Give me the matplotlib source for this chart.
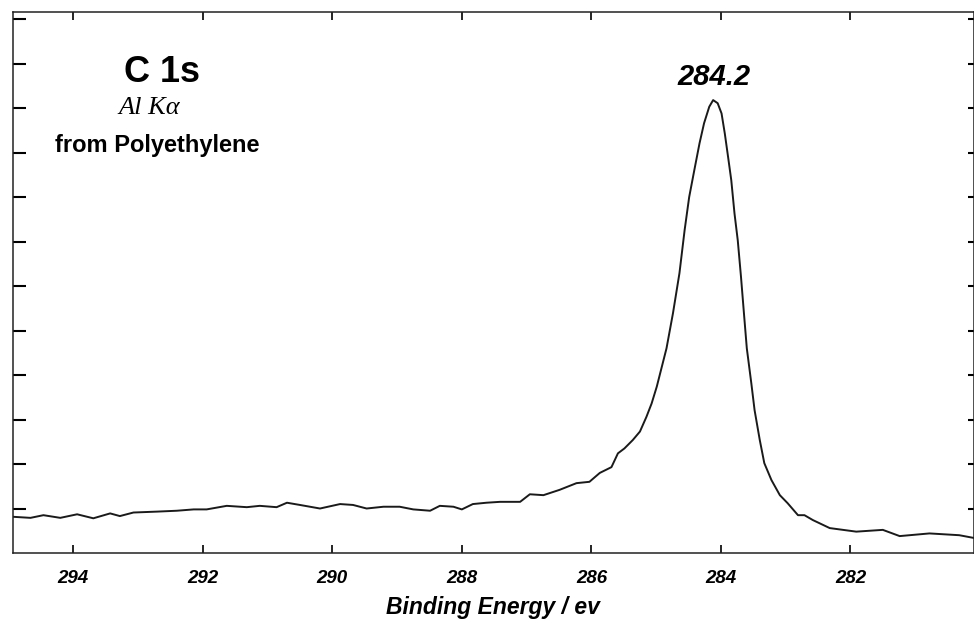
import numpy as np
import matplotlib as mpl
mpl.use('Agg')
import matplotlib.pyplot as plt

# C 1s spectrum (binding energy in eV, intensity in tick units)
energy = [295.00, 294.66, 294.46, 294.20, 293.94, 293.69, 293.43, 293.28, 293.07,
          292.71, 292.40, 292.14, 291.94, 291.63, 291.32, 291.12, 290.86, 290.70,
          290.50, 290.19, 289.88, 289.68, 289.47, 289.21, 288.96, 288.75, 288.49,
          288.34, 288.13, 288.00, 287.83, 287.62, 287.41, 287.10, 286.95, 286.74,
          286.49, 286.23, 286.03, 285.87, 285.69, 285.59, 285.49, 285.36, 285.25,
          285.15, 285.07, 284.99, 284.84, 284.74, 284.64, 284.56, 284.49, 284.41,
          284.33, 284.26, 284.18, 284.12, 284.05, 283.99, 283.94, 283.89, 283.84,
          283.79, 283.74, 283.69, 283.64, 283.60, 283.53, 283.48, 283.40, 283.33,
          283.22, 283.09, 282.97, 282.81, 282.71, 282.58, 282.32, 281.91, 281.50,
          281.24, 280.78, 280.32, 280.10]
intensity = [0.82, 0.79, 0.85, 0.79, 0.87, 0.78, 0.89, 0.83, 0.91,
             0.93, 0.95, 0.98, 0.98, 1.06, 1.03, 1.06, 1.03, 1.13,
             1.08, 1.00, 1.10, 1.08, 1.00, 1.04, 1.04, 0.98, 0.95,
             1.06, 1.04, 0.98, 1.10, 1.13, 1.15, 1.15, 1.32, 1.30,
             1.42, 1.57, 1.60, 1.80, 1.93, 2.24, 2.35, 2.54, 2.73,
             3.06, 3.36, 3.74, 4.60, 5.39, 6.29, 7.26, 8.00, 8.61,
             9.21, 9.66, 10.03, 10.18, 10.11, 9.88, 9.43, 8.91, 8.38,
             7.63, 7.03, 6.21, 5.31, 4.60, 3.81, 3.21, 2.54, 2.02,
             1.64, 1.30, 1.12, 0.85, 0.85, 0.74, 0.56, 0.48, 0.52,
             0.38, 0.44, 0.40, 0.34]

xticks = [294, 292, 290, 288, 286, 284, 282]
yticks = list(range(1, 13))
peak_label = "284.2"

fig = plt.figure(figsize=(9.74, 6.24), dpi=100)
ax = fig.add_axes([13 / 974, 71 / 624, 960.5 / 974, 541 / 624])

ax.plot(energy, intensity, color='#1a1a1a', lw=1.4)

ax.set_xlim(294.93, 280.10)
ax.set_ylim(0, 12.16)

ax.set_xticks(xticks)
ax.set_xticklabels([str(t) for t in xticks], fontfamily='Liberation Sans',
                   fontweight='bold', fontstyle='italic', fontsize=13.5)
ax.tick_params(axis='x', direction='in', top=True, bottom=True,
               length=6, width=1.2, pad=12)
ax.set_yticks(yticks)
ax.set_yticklabels([])
ax.tick_params(axis='y', direction='in', left=True, right=False,
               length=9, width=1.5)

# shorter ticks on the right side
sec = ax.secondary_yaxis('right')
sec.set_yticks(yticks)
sec.set_yticklabels([])
sec.tick_params(direction='in', length=4.5, width=1.5)

for s in ax.spines.values():
    s.set_linewidth(1.1)
    s.set_color('#222222')

ax.set_xlabel("Binding Energy / ev", fontfamily='Liberation Sans',
              fontweight='bold', fontstyle='italic', fontsize=16.5, labelpad=7)

ax.text(292.63, 10.81, "C 1s", fontfamily='Liberation Sans', fontweight='bold',
        fontsize=26, ha='center', va='center')
ax.text(292.83, 10.0, "Al Kα", fontfamily='Liberation Serif', fontstyle='italic',
        fontsize=19, ha='center', va='center')
ax.text(292.70, 9.15, "from Polyethylene", fontfamily='Liberation Sans',
        fontweight='bold', fontsize=17, ha='center', va='center')
ax.text(284.11, 10.7, peak_label, fontfamily='Liberation Sans', fontweight='bold',
        fontstyle='italic', fontsize=21, ha='center', va='center')

fig.savefig("out.png", dpi=100)
